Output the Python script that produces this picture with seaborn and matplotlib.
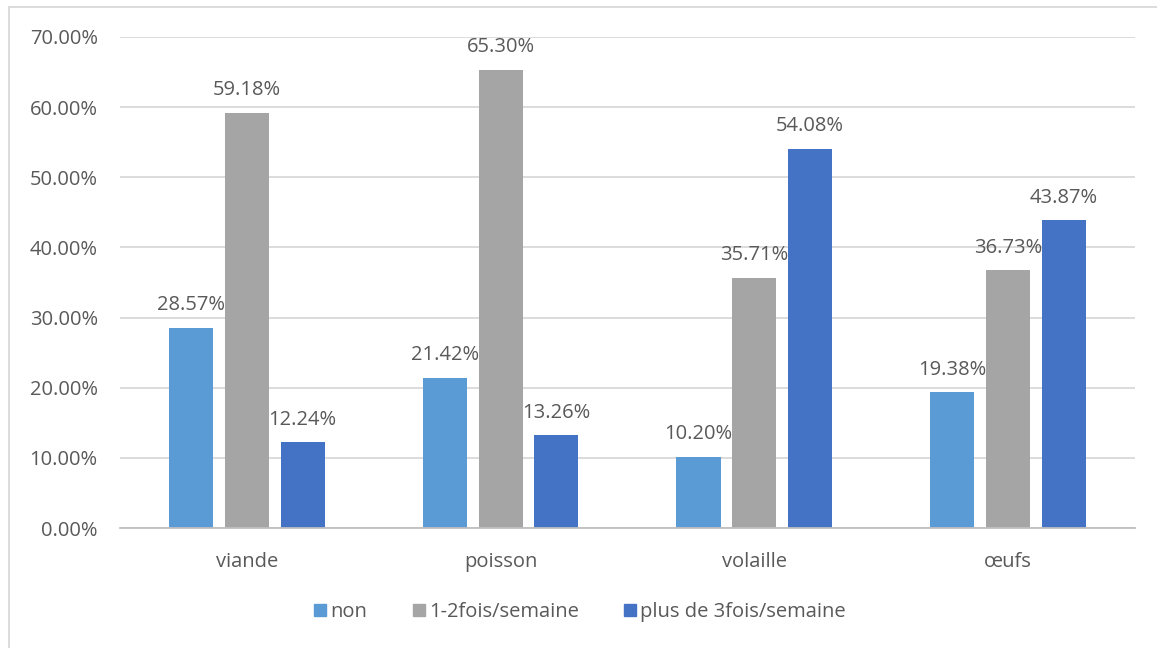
import matplotlib
matplotlib.use("Agg")
import matplotlib.pyplot as plt
from matplotlib.ticker import FuncFormatter
from matplotlib.lines import Line2D
import seaborn as sns
import pandas as pd

# Consumption frequency by food type (percent)
categories = ["viande", "poisson", "volaille", "œufs"]
series_names = ["non", "1-2fois/semaine", "plus de 3fois/semaine"]
non = [28.57, 21.42, 10.20, 19.38]
une_deux = [59.18, 65.30, 35.71, 36.73]
plus_trois = [12.24, 13.26, 54.08, 43.87]
y_ticks = [0, 10, 20, 30, 40, 50, 60, 70]

colors = ["#5B9BD5", "#A5A5A5", "#4472C4"]
text_color = "#595959"
fs = 14.5

rows = []
for name, vals in zip(series_names, [non, une_deux, plus_trois]):
    for cat, v in zip(categories, vals):
        rows.append({"aliment": cat, "frequence": name, "pct": v})
df = pd.DataFrame(rows)

sns.set_theme(style="white")
plt.rcParams["font.family"] = ["Open Sans", "DejaVu Sans"]

fig = plt.figure(figsize=(11.57, 6.48), dpi=100)
ax = fig.add_axes([0.1037, 0.185, 0.8773, 0.758])

sns.barplot(data=df, x="aliment", y="pct", hue="frequence",
            order=categories, hue_order=series_names, palette=colors,
            width=0.66, gap=0.21, saturation=1, linewidth=0,
            ax=ax, legend=False)

ax.set_ylim(0, 70)
ax.set_yticks(y_ticks)
ax.yaxis.set_major_formatter(FuncFormatter(lambda v, _: f"{v:.2f}%"))
ax.grid(axis="y", color="#D9D9D9", linewidth=1.3)
ax.set_axisbelow(True)
for side in ["top", "right", "left"]:
    ax.spines[side].set_visible(False)
ax.spines["bottom"].set_color("#BFBFBF")
ax.spines["bottom"].set_linewidth(1.3)
ax.tick_params(axis="both", length=0, labelsize=fs, labelcolor=text_color)
ax.tick_params(axis="y", pad=16)
ax.tick_params(axis="x", pad=17)
ax.set_xlabel("")
ax.set_ylabel("")
ax.set_xlim(-0.5, 3.5)

# Value labels above each bar
for container in ax.containers:
    ax.bar_label(container, labels=[f"{b.get_height():.2f}%" for b in container],
                 padding=9, fontsize=fs, color=text_color)

# Legend at bottom centre
handles = [Line2D([0], [0], marker="s", linestyle="", markersize=9,
                  markerfacecolor=c, markeredgecolor=c) for c in colors]
fig.legend(handles, series_names, loc="center", bbox_to_anchor=(0.5, 0.055),
           ncol=3, frameon=False, fontsize=fs, labelcolor=text_color,
           handletextpad=0.05, columnspacing=2.1, handlelength=0.9)

# Chart-area outline (top and left edges)
fig.add_artist(Line2D([0.0078, 0.0078], [0.0, 0.989], transform=fig.transFigure,
                      color="#D9D9D9", linewidth=1.3))
fig.add_artist(Line2D([0.0078, 1.0], [0.989, 0.989], transform=fig.transFigure,
                      color="#D9D9D9", linewidth=1.3))

fig.savefig("out.png", dpi=100)
